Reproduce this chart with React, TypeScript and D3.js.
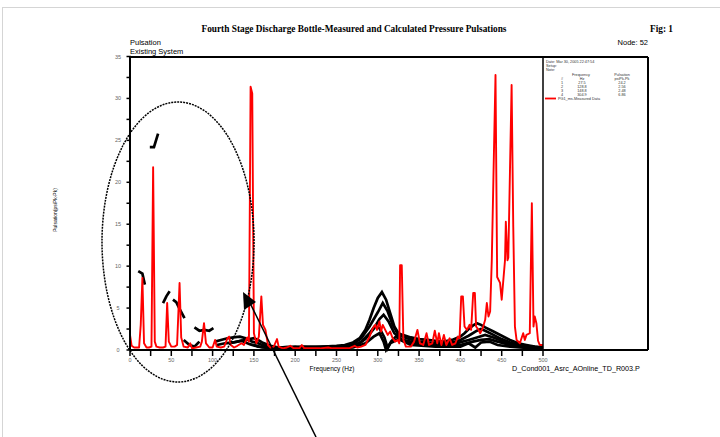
import React from "react";
import * as d3 from "d3";

type Pt = [number, number] | null;

// measured data (red), [Hz, psi pk-pk]
const measured: [number, number][] = [
  [0, 1.8], [2, 0.5], [5, 0.3], [8, 0.3], [11, 0.3], [13, 3], [15, 8.6], [17, 0.8], [20, 0.3], [23, 0.3],
  [26, 0.4], [28, 21.8], [30, 1.0], [32, 0.4], [36, 0.3], [40, 0.3], [43, 0.4], [45, 5.6], [47, 1.0], [50, 0.4],
  [54, 0.4], [57, 0.6], [60, 8.0], [62, 1.5], [65, 0.4], [70, 0.3], [73, 0.8], [75, 0.2], [80, 0.3], [85, 0.4],
  [87, 1.0], [89.6, 3.2], [92, 0.8], [96, 0.3], [100, 0.3], [103, 1.2], [105, 0.4], [110, 0.3], [114, 0.4],
  [118, 1.4], [120, 1.6], [122, 0.6], [126, 0.3], [130, 0.5], [135, 0.8], [138, 0.6], [142, 1.5], [144, 1.0],
  [146, 31.4], [148, 30.6], [150, 2.0], [153, 0.8], [156, 1.6], [159, 6.4], [161, 3.0], [164, 2.4], [167, 0.6],
  [170, 0.3], [174, 0.4], [178, 1.3], [180, 0.4], [185, 0.2], [190, 0.3], [194, 0.5], [198, 0.2], [205, 0.2],
  [208, 0.6], [211, 0.2], [220, 0.2], [230, 0.2], [240, 0.3], [245, 0.2], [255, 0.2], [265, 0.2], [272, 0.5],
  [275, 0.3], [280, 0.4], [285, 0.6], [290, 1.6], [294, 2.6], [297, 3.0], [299, 2.4], [302, 3.4], [304, 2.2],
  [306, 3.0], [309, 2.4], [312, 1.8], [315, 2.2], [318, 1.4], [321, 1.0], [324, 1.2], [326, 0.8], [327, 10.1],
  [329, 10.1], [331, 1.2], [334, 0.4], [340, 0.4], [344, 1.0], [348, 2.4], [351, 0.8], [355, 0.6], [359, 2.0],
  [362, 0.6], [366, 0.8], [369, 2.3], [372, 0.8], [374, 2.0], [377, 0.6], [380, 1.8], [383, 0.6], [387, 1.4],
  [390, 0.6], [394, 0.8], [397, 1.6], [399, 1.4], [401, 6.4], [403, 6.4], [405, 2.8], [408, 2.4], [411, 3.0],
  [413, 2.4], [415.5, 6.8], [417.5, 6.8], [419, 2.8], [422, 2.4], [424, 2.0], [427, 2.6], [430, 3.6], [432, 5.6],
  [434, 4.0], [436, 4.6], [438, 10.7], [440, 20.6], [442.5, 32.8], [444.5, 8.7], [448, 8.0], [450, 6.0],
  [454, 10.7], [455, 15.3], [457, 10.7], [458, 11], [462, 31.6], [464, 14.7], [466, 2.8], [468, 1.2], [472, 0.8],
  [476, 2.0], [478, 1.2], [480, 1.8], [484, 2.0], [486.5, 17.5], [488.5, 2.8], [490, 4.0], [492, 3.2], [494, 1.1],
  [496, 0.6], [500, 0.6],
];

// calculated responses (black)
const calc1: Pt[] = [
  [10, 9.4], [15, 9.1], [18, 7.8], null, [24, 24.2], [29, 24.2], [34, 25.8], null,
  [40, 5.6], [44, 6.4], [48, 7.0], null, [52, 6.0], [56, 5.7], [60, 4.9], [66, 3.8], null,
  [78, 2.7], [84, 2.3], [90, 2.4], [96, 2.3], [101, 2.6], null,
  [103, 1.0], [110, 1.2], [118, 1.4], [125, 1.5], [133, 1.6], [140, 1.4], [148, 1.0], [155, 0.8], [160, 0.6],
  [170, 0.4], [180, 0.3], [190, 0.35], [200, 0.3], [210, 0.4], [220, 0.4], [230, 0.4], [240, 0.45], [250, 0.5],
  [260, 0.6], [270, 0.9], [278, 1.4], [285, 2.4], [290, 3.6], [295, 5.0], [300, 6.2], [305, 6.9], [310, 6.0],
  [315, 4.4], [320, 2.8], [325, 2.0], [330, 1.8], [340, 1.5], [350, 1.3], [360, 1.2], [370, 1.1], [380, 1.0],
  [390, 1.2], [400, 1.6], [405, 2.0], [410, 2.5], [415, 2.9], [420, 3.2], [425, 3.0], [430, 2.7], [440, 2.2],
  [450, 1.7], [460, 1.2], [470, 0.8], [480, 0.6], [490, 0.4], [500, 0.3],
];
const calc2: Pt[] = [
  [65, 1.2], [72, 0.6], [78, 0.4], [84, 1.0], null,
  [120, 0.8], [130, 1.0], [140, 1.2], [150, 1.4], [155, 1.2], [160, 0.9], [170, 0.5], [180, 0.3], [200, 0.4],
  [220, 0.3], [240, 0.4], [260, 0.4], [270, 0.7], [280, 1.4], [290, 2.8], [300, 4.5], [306, 5.6], [312, 4.6],
  [318, 3.0], [325, 1.8], [335, 1.4], [350, 1.0], [370, 0.8], [390, 0.9], [400, 1.2], [410, 1.7], [420, 2.3],
  [425, 2.5], [430, 2.3], [440, 1.8], [450, 1.3], [460, 0.9], [470, 0.6], [485, 0.4], [500, 0.3],
];
const calc3: Pt[] = [
  [105, 0.6], [115, 0.8], [125, 0.9], [135, 1.1], [145, 0.7], [155, 0.4], [170, 0.3], [190, 0.2], [210, 0.3],
  [230, 0.3], [250, 0.3], [265, 0.4], [275, 0.6], [285, 1.3], [295, 2.5], [302, 3.7], [307, 4.2], [313, 3.4],
  [320, 2.0], [330, 1.2], [345, 0.9], [370, 0.7], [395, 0.8], [410, 1.2], [420, 1.5], [430, 1.8], [440, 1.5],
  [450, 1.1], [465, 0.7], [480, 0.4], [500, 0.2],
];
const calc4: Pt[] = [
  [150, 0.6], [160, 0.3], [175, 0.2], [200, 0.2], [230, 0.2], [260, 0.3], [270, 0.5], [280, 1.0], [290, 2.0],
  [296, 2.8], [302, 2.6], [308, 1.5], [312, 0.2], [316, 1.0], [322, 1.6], [330, 1.1], [345, 0.7], [370, 0.5],
  [400, 0.6], [415, 1.0], [425, 1.2], [435, 1.3], [445, 1.0], [460, 0.6], [480, 0.3], [500, 0.2],
];
const calc5: Pt[] = [
  [165, 0.5], [175, 0.2], [200, 0.1], [240, 0.1], [270, 0.3], [285, 0.8], [295, 1.6], [302, 2.0], [307, 1.0],
  [310, 0.0], [315, 0.8], [325, 1.3], [340, 0.6], [370, 0.4], [400, 0.4], [410, 0.8], [418, 0.3], [425, 0.9],
  [435, 1.0], [445, 0.6], [460, 0.4], [500, 0.1],
];
const calcCurves = [calc1, calc2, calc3, calc4, calc5];

const yTicks = [0, 5, 10, 15, 20, 25, 30, 35];
const xTicks = [0, 50, 100, 150, 200, 250, 300, 350, 400, 450, 500];

const legendHead = ["Date: Mar 30, 2005  22:47:54", "Setup:", "Note:"];
const legendRows = [
  ["#", "Hz", "psiPk-Pk"],
  ["1", "27.5", "24.2"],
  ["2", "128.8", "2.56"],
  ["3", "148.8", "2.48"],
  ["4", "304.9", "6.86"],
];

const sans = "'Liberation Sans', Arial, sans-serif";
const serif = "'Liberation Serif', 'Times New Roman', serif";

export default function App() {
  const x = d3.scaleLinear().domain([0, 500]).range([130, 543]);
  const y = d3.scaleLinear().domain([0, 35]).range([350, 56.5]);
  const left = 130, right = 648, top = 57, bottom = 350, sep = 543;

  const redLine = d3.line<[number, number]>().x(d => x(d[0])).y(d => y(d[1]));
  const calcLine = d3.line<Pt>()
    .defined(d => d !== null)
    .x(d => x((d as [number, number])[0]))
    .y(d => y((d as [number, number])[1]));

  const minorY = d3.range(0, 35.01, 2.5);
  const minorX = d3.range(0, 500.01, 25);

  return (
    <svg width={720} height={437} style={{ position: "absolute", left: 0, top: 0 }}>
      <rect x={0} y={0} width={720} height={437} fill="#fff" />
      <rect x={2.5} y={7.5} width={800} height={500} fill="none" stroke="#aaa" strokeDasharray="1,1" />

      <text x={354} y={32} textAnchor="middle" fontFamily={serif} fontWeight="bold" fontSize={9.3} fill="#000">
        Fourth Stage Discharge Bottle-Measured and Calculated Pressure Pulsations
      </text>
      <text x={650} y={32} fontFamily={serif} fontWeight="bold" fontSize={9.3} fill="#000">Fig: 1</text>
      <text x={130} y={45} fontFamily={sans} fontSize={7.5} fill="#000">Pulsation</text>
      <text x={130} y={54} fontFamily={sans} fontSize={7.5} fill="#000">Existing System</text>
      <text x={648} y={45} textAnchor="end" fontFamily={sans} fontSize={7.5} fill="#000">Node: 52</text>

      {/* axes ticks */}
      {minorY.map(t => (
        <line key={"yt" + t} x1={126.5} x2={131} y1={y(t)} y2={y(t)} stroke="#000" strokeWidth={1.5} />
      ))}
      {yTicks.map(t => (
        <text key={"yl" + t} x={118} y={y(t) + 2} textAnchor="middle" fontFamily={sans} fontSize={5.5} fill="#666">{t}</text>
      ))}
      {minorX.map(t => (
        <line key={"xt" + t} x1={x(t)} x2={x(t)} y1={350} y2={356} stroke="#000" strokeWidth={1.5} />
      ))}
      {xTicks.map(t => (
        <text key={"xl" + t} x={x(t)} y={362} textAnchor="middle" fontFamily={sans} fontSize={5.5} fill="#666">{t}</text>
      ))}

      <text transform="translate(57,210) rotate(-90)" textAnchor="middle" fontFamily={sans} fontSize={5} fill="#000">Pulsation(psiPk-Pk)</text>
      <text x={332} y={371} textAnchor="middle" fontFamily={sans} fontSize={6.5} fill="#000">Frequency (Hz)</text>
      <text x={512} y={371} fontFamily={sans} fontSize={7.2} fill="#000">D_Cond001_Asrc_AOnline_TD_R003.P</text>

      {/* data */}
      {calcCurves.map((c, i) => (
        <path key={"c" + i} d={calcLine(c) || ""} fill="none" stroke="#000" strokeWidth={2.7} strokeLinejoin="miter" />
      ))}
      <path d={redLine(measured) || ""} fill="none" stroke="#ff0000" strokeWidth={1.9} strokeLinejoin="round" />

      {/* frame */}
      <line x1={left} x2={right} y1={top} y2={top} stroke="#000" strokeWidth={2} />
      <line x1={left} x2={right} y1={bottom} y2={bottom} stroke="#000" strokeWidth={2} />
      <line x1={left} x2={left} y1={top} y2={bottom} stroke="#000" strokeWidth={2} />
      <line x1={right} x2={right} y1={top} y2={bottom} stroke="#000" strokeWidth={2} />
      <line x1={sep} x2={sep} y1={top} y2={bottom} stroke="#000" strokeWidth={1.5} />

      {/* legend */}
      {legendHead.map((t, i) => (
        <text key={"lh" + i} x={546} y={62.5 + i * 4} fontFamily={sans} fontSize={3.8} fill="#333">{t}</text>
      ))}
      <text x={581} y={76} textAnchor="middle" fontFamily={sans} fontSize={3.8} fill="#333">Frequency</text>
      <text x={622} y={76} textAnchor="middle" fontFamily={sans} fontSize={3.8} fill="#333">Pulsation</text>
      {legendRows.map((r, i) => (
        <g key={"lr" + i} fontFamily={sans} fontSize={3.8} fill="#333">
          <text x={562} y={80 + i * 4} textAnchor="middle">{r[0]}</text>
          <text x={582} y={80 + i * 4} textAnchor="middle">{r[1]}</text>
          <text x={622} y={80 + i * 4} textAnchor="middle">{r[2]}</text>
        </g>
      ))}
      <line x1={545} x2={556} y1={98.5} y2={98.5} stroke="#ff0000" strokeWidth={1.8} />
      <text x={558} y={100} fontFamily={sans} fontSize={3.8} fill="#333">PG1_ms-Measured Data</text>

      {/* annotation */}
      <ellipse cx={178} cy={242} rx={76} ry={140} fill="none" stroke="#000" strokeWidth={1.5} strokeDasharray="2,1" />
      <line x1={316} y1={437} x2={249} y2={301} stroke="#000" strokeWidth={1.5} />
      <polygon points="243,292 244,310 256,302" fill="#000" />
    </svg>
  );
}
